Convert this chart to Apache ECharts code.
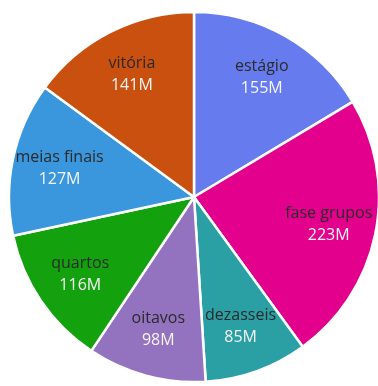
<!DOCTYPE html>
<html>
<head>
<meta charset="utf-8">
<script src="https://cdn.jsdelivr.net/npm/echarts@6/dist/echarts.min.js"></script>
<style>
html,body{margin:0;padding:0;background:#fff;}
#c{width:378px;height:386px;}
</style>
</head>
<body>
<div id="c"></div>
<script>
const categories = ['estágio', 'fase grupos', 'dezasseis', 'oitavos', 'quartos', 'meias finais', 'vitória'];
const values = [155, 223, 85, 98, 116, 127, 141];
const valueLabels = ['155M', '223M', '85M', '98M', '116M', '127M', '141M'];
const colors = ['#667CEE', '#E3008C', '#2A9FA4', '#9373BF', '#13A10E', '#3A96DD', '#CA5010'];

const chart = echarts.init(document.getElementById('c'), null, {renderer: 'canvas'});
const fillData = categories.map((n, i) => ({
  name: n, value: values[i], itemStyle: {color: colors[i]}
}));
const labelData = categories.map((n, i) => ({
  name: n, value: values[i]
}));
chart.setOption({
  animation: false,
  series: [
    {
      type: 'pie',
      center: [194, 197],
      radius: [0, 185],
      startAngle: 90,
      clockwise: true,
      silent: true,
      label: {show: false},
      labelLine: {show: false},
      itemStyle: {borderColor: '#ffffff', borderWidth: 2.5},
      data: fillData
    },
    {
      type: 'pie',
      center: [194, 197],
      radius: [84, 185],
      startAngle: 90,
      clockwise: true,
      silent: true,
      itemStyle: {color: 'rgba(0,0,0,0)', borderWidth: 0},
      labelLine: {show: false},
      label: {
        show: true,
        position: 'inside',
        formatter: function (p) {
          return '{n|' + p.name + '}\n{v|' + valueLabels[p.dataIndex] + '}';
        },
        rich: {
          n: {fontFamily: 'Open Sans', fontSize: 16, color: '#2B2A29', lineHeight: 22, align: 'center'},
          v: {fontFamily: 'Open Sans', fontSize: 16, color: '#F5F5F5', lineHeight: 22, align: 'center'}
        }
      },
      data: labelData
    }
  ]
});
</script>
</body>
</html>
